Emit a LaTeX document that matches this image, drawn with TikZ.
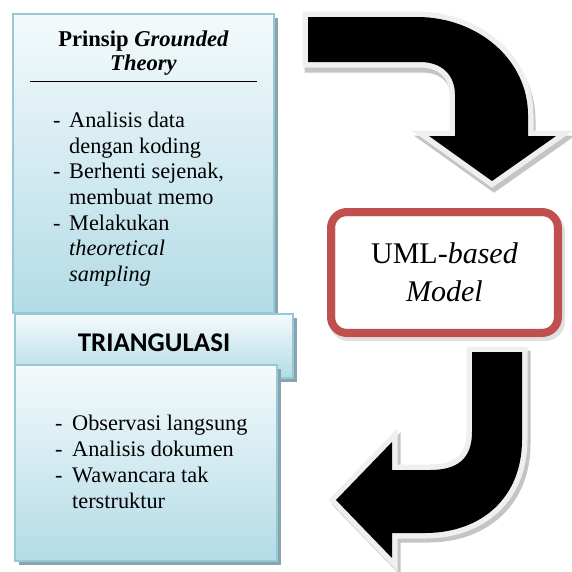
\documentclass[tikz,border=0pt]{standalone}
\usepackage{fontspec}
\setmainfont{Liberation Serif}
\newfontfamily\calib{Carlito}
\definecolor{boxblue}{HTML}{B3DBE6}
\definecolor{boxtop}{HTML}{F4FAFC}
\definecolor{boxline}{HTML}{96C8D5}
\definecolor{boxshadow}{HTML}{88A4AE}
\definecolor{umlred}{HTML}{C0504D}
\definecolor{arrowrim}{HTML}{EFEFEF}
\definecolor{arrowshadow}{HTML}{C4C4C4}
\tikzset{
  panel/.style={draw=boxline, line width=1.1pt, top color=boxtop, bottom color=boxblue, inner sep=0pt},
  txt/.style={anchor=base west, font=\fontsize{22.3}{25.8}\selectfont, inner sep=0pt},
  ttl/.style={anchor=base, font=\fontsize{22.6}{25.8}\selectfont\bfseries, inner sep=0pt},
  rimline/.style={line width=11pt, line join=miter, miter limit=10},
}
\def\toparrow{(308,17) -- (417,17) .. controls (478,17) and (528,60) .. (528,115) -- (528,136) -- (556,136) -- (492,181) -- (429,136) -- (455,136) -- (455,95) .. controls (455,75) and (442,62) .. (420,62) -- (308,62) -- cycle}
\def\botarrow{(472,352) -- (522,352) -- (522,440) .. controls (522,497) and (482,533) .. (425,533) -- (392,533) -- (392,558) -- (336,500) -- (392,442) -- (392,470) -- (430,470) .. controls (456,470) and (472,460) .. (472,432) -- cycle}
\begin{document}
\begin{tikzpicture}[x=1pt, y=-1pt]
\useasboundingbox[fill=white] (0,0) rectangle (572,571);

% ---- top-left panel ----
\fill[boxshadow] (17,18) rectangle (278,317);
\node[panel, minimum width=261pt, minimum height=299pt] (gt) at (143.5,163.5) {};
\node[ttl] (t1) at (143.5,46) {Prinsip \textit{Grounded}};
\node[ttl] (t2) at (143.5,70) {\textit{Theory}};
\draw[line width=0.8pt] (30,81) -- (257,81);
\node[txt] (d1) at (53,127) {-};
\node[txt] (a1) at (69,127) {Analisis data};
\node[txt] (a2) at (69,153) {dengan koding};
\node[txt] (d2) at (53,178) {-};
\node[txt] (b1) at (69,178) {Berhenti sejenak,};
\node[txt] (b2) at (69,204) {membuat memo};
\node[txt] (d3) at (53,230) {-};
\node[txt] (c1) at (69,230) {Melakukan};
\node[txt] (c2) at (69,255) {\textit{theoretical}};
\node[txt] (c3) at (69,281) {\textit{sampling}};

% ---- TRIANGULASI header ----
\fill[boxshadow] (19,318) rectangle (297,382);
\node[panel, minimum width=278pt, minimum height=64pt] (hd) at (154,346) {};
\node[font=\calib\bfseries\fontsize{27}{30}\selectfont, inner sep=0pt] (htxt) at (154,343) {TRIANGULASI};

% ---- bottom panel ----
\fill[boxshadow] (19,369) rectangle (281,565);
\node[panel, minimum width=262pt, minimum height=196pt] (tri) at (146,463) {};
\node[txt] (e0) at (55,430) {-};
\node[txt] (e1) at (72,430) {Observasi langsung};
\node[txt] (f0) at (55,456) {-};
\node[txt] (f1) at (72,456) {Analisis dokumen};
\node[txt] (g0) at (55,482) {-};
\node[txt] (g1) at (72,482) {Wawancara tak};
\node[txt] (g2) at (72,508) {terstruktur};

% ---- top arrow ----
\begin{scope}[shift={(2,5)}]
  \filldraw[arrowshadow, rimline] \toparrow;
\end{scope}
\filldraw[draw=arrowrim, fill=arrowrim, rimline] \toparrow;
\fill[black] \toparrow;

% ---- UML box ----
\fill[black!12, rounded corners=20pt] (329,212) rectangle (565,341);
\node[draw=umlred, fill=white, line width=8pt, rounded corners=16pt,
      minimum width=227pt, minimum height=121pt, align=center,
      font=\fontsize{30}{38}\selectfont] (uml) at (444.5,272.5) {UML-\textit{based}\\\textit{Model}};
\draw[umlred, line width=1.3pt, rounded corners=10pt]
  ([shift={(7.5,7.5)}]uml.north west) rectangle ([shift={(-7.5,-7.5)}]uml.south east);

% ---- bottom arrow ----
\begin{scope}[shift={(3,4)}]
  \filldraw[arrowshadow, rimline] \botarrow;
\end{scope}
\filldraw[draw=arrowrim, fill=arrowrim, rimline] \botarrow;
\fill[black] \botarrow;
\end{tikzpicture}
\end{document}
